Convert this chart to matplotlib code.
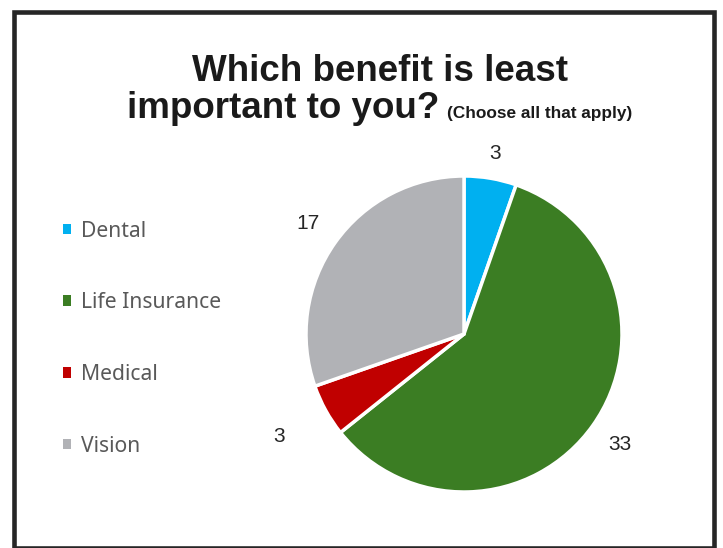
import matplotlib
matplotlib.use("Agg")
import matplotlib.pyplot as plt
from matplotlib.patches import Patch, Rectangle
import numpy as np

benefits = ["Dental", "Life Insurance", "Medical", "Vision"]
votes = [3, 33, 3, 17]
colors = ["#00B0F0", "#3B7D23", "#C00000", "#B1B2B6"]
# how far out each value label sits, in pie radii
label_radius = [1.16, 1.21, 1.34, 1.21]

title_font = ["Liberation Sans Narrow", "Liberation Sans", "DejaVu Sans"]

fig = plt.figure(figsize=(7.23, 5.48), dpi=100)
W, H = 723, 548

# outer frame
fig.patches.append(Rectangle((13.5 / W, 0.5 / H), 700 / W, 536 / H, transform=fig.transFigure,
                             fill=False, edgecolor="#262626", linewidth=3.3))

# pie axes: centre (464, 334) px, radius 158 px
r_px = 158
ax = fig.add_axes([(464 - 1.5 * r_px) / W, (H - 334 - 1.5 * r_px) / H, 3 * r_px / W, 3 * r_px / H])
wedges, _ = ax.pie(votes, colors=colors, startangle=90, counterclock=False, radius=1.0,
                   wedgeprops=dict(edgecolor="white", linewidth=2.5))
ax.set_xlim(-1.5, 1.5)
ax.set_ylim(-1.5, 1.5)
ax.axis("off")

for w, v, rf in zip(wedges, votes, label_radius):
    ang = np.deg2rad((w.theta1 + w.theta2) / 2)
    ax.text(rf * np.cos(ang), rf * np.sin(ang), str(v), ha="center", va="center",
            fontsize=15, color="#262626", family=["Liberation Sans", "DejaVu Sans"])

# title
fig.text(380 / W, (H - 81) / H, "Which benefit is least", ha="center", va="baseline",
         fontsize=26.5, fontweight="bold", family=title_font, color="#1a1a1a")
fig.text(127 / W, (H - 118) / H, "important to you?", ha="left", va="baseline",
         fontsize=26.5, fontweight="bold", family=title_font, color="#1a1a1a")
fig.text(447 / W, (H - 118) / H, "(Choose all that apply)", ha="left", va="baseline",
         fontsize=12.4, fontweight="bold", family=title_font, color="#1a1a1a")

handles = [Patch(facecolor=c, edgecolor="none") for c in colors]
fig.legend(handles, benefits, loc="upper left", bbox_to_anchor=(52 / W, (H - 210) / H),
           frameon=False, borderpad=0, handlelength=0.42, handleheight=0.42,
           handletextpad=0.47, labelspacing=2.4, labelcolor="#595959",
           prop=dict(family=["Noto Sans", "DejaVu Sans"], size=15.2))

fig.savefig("out.png", dpi=100)
